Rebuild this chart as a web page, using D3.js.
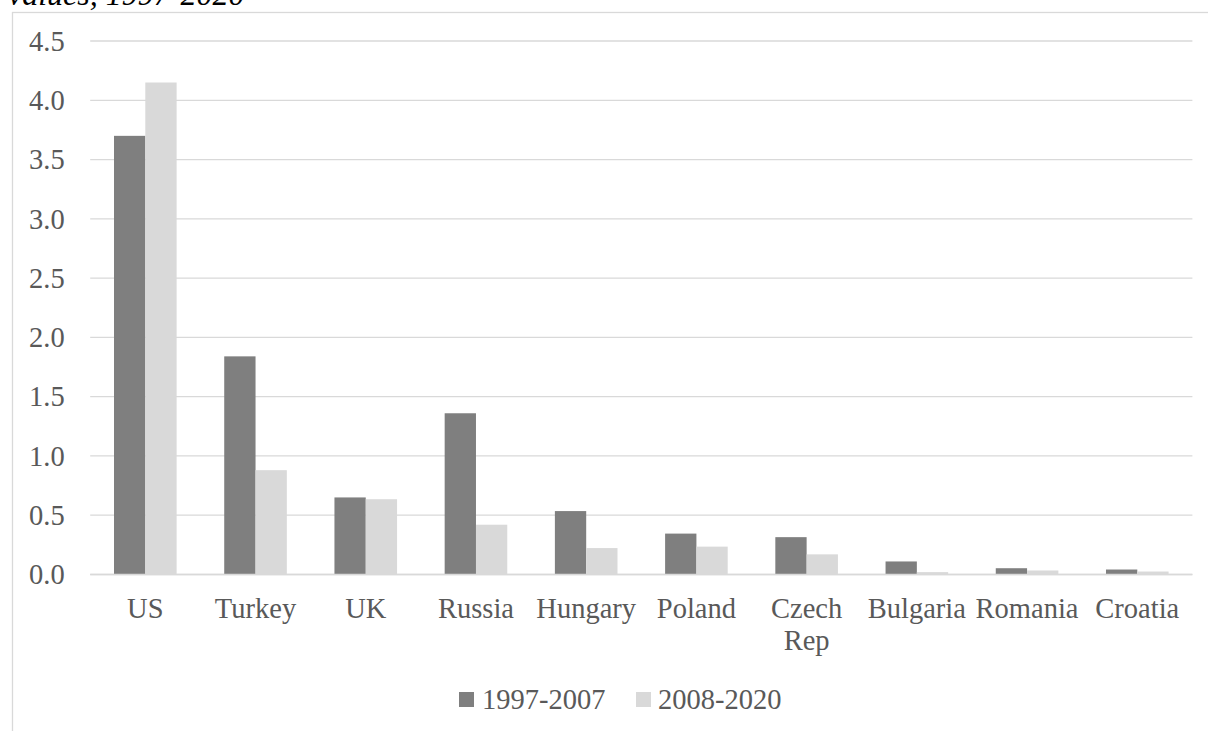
<!DOCTYPE html>
<html>
<head>
<meta charset="utf-8">
<script src="https://cdn.jsdelivr.net/npm/d3@7"></script>
<style>
  html, body { margin: 0; padding: 0; background: #fff; }
  svg { display: block; }
</style>
</head>
<body>
<svg id="chart" width="1208" height="731"></svg>
<script>
const categories = ["US", "Turkey", "UK", "Russia", "Hungary", "Poland", "Czech Rep", "Bulgaria", "Romania", "Croatia"];
const series1997_2007 = [3.70, 1.84, 0.65, 1.36, 0.535, 0.345, 0.315, 0.11, 0.053, 0.042];
const series2008_2020 = [4.15, 0.88, 0.635, 0.42, 0.223, 0.235, 0.17, 0.02, 0.034, 0.025];
const seriesNames = ["1997-2007", "2008-2020"];
const seriesColors = ["#7f7f7f", "#d9d9d9"];
const yTicks = [0, 0.5, 1.0, 1.5, 2.0, 2.5, 3.0, 3.5, 4.0, 4.5];
const titleText = "values, 1997-2020";

(function () {
const svg = d3.select("#chart");
const font = "'Liberation Serif', 'Times New Roman', serif";
const textColor = "#595959";

// caption (cut off at top, as in the source page)
svg.append("text")
  .attr("x", 8).attr("y", 5)
  .attr("font-family", font).attr("font-style", "italic")
  .attr("font-size", 32).attr("fill", "#000")
  .text(titleText);

// chart frame
svg.append("rect")
  .attr("x", 12.5).attr("y", 12.5)
  .attr("width", 1300).attr("height", 800)
  .attr("fill", "#fff").attr("stroke", "#d9d9d9").attr("stroke-width", 1.3);

const pLeft = 90.2, pRight = 1192.4, pTop = 41, pBottom = 574.5;

const x = d3.scaleBand().domain(categories).range([pLeft, pRight]).paddingInner(0.432).paddingOuter(0.216);
const xs = d3.scaleBand().domain(seriesNames).range([0, x.bandwidth()]);
const y = d3.scaleLinear().domain([0, 4.5]).range([pBottom, pTop]);

// gridlines
svg.append("g").selectAll("line").data(yTicks).join("line")
  .attr("x1", pLeft).attr("x2", pRight)
  .attr("y1", d => y(d)).attr("y2", d => y(d))
  .attr("stroke", "#d9d9d9").attr("stroke-width", 1.3);

// y labels
svg.append("g").selectAll("text").data(yTicks).join("text")
  .attr("x", 29).attr("y", d => y(d))
  .attr("dy", "0.34em")
  .attr("font-family", font).attr("font-size", 28.5).attr("fill", textColor)
  .text(d => d3.format(".1f")(d));

// bars
const data = categories.map((c, i) => ({cat: c, vals: [series1997_2007[i], series2008_2020[i]]}));
const groups = svg.append("g").selectAll("g").data(data).join("g")
  .attr("transform", d => `translate(${x(d.cat)},0)`);
groups.selectAll("rect").data(d => d.vals.map((v, j) => ({name: seriesNames[j], v, j})))
  .join("rect")
  .attr("x", d => xs(d.name))
  .attr("width", xs.bandwidth())
  .attr("y", d => y(d.v))
  .attr("height", d => y(0) - y(d.v))
  .attr("fill", d => seriesColors[d.j]);

// baseline axis
svg.append("line")
  .attr("x1", pLeft).attr("x2", pRight)
  .attr("y1", y(0)).attr("y2", y(0))
  .attr("stroke", "#d9d9d9").attr("stroke-width", 1.5);

// category labels
const catG = svg.append("g");
categories.forEach(c => {
  const words = c === "Czech Rep" ? ["Czech", "Rep"] : [c];
  const cx = x(c) + x.bandwidth() / 2;
  const t = catG.append("text")
    .attr("x", cx)
    .attr("y", 618)
    .attr("text-anchor", "middle")
    .attr("font-family", font).attr("font-size", 28.5).attr("fill", textColor);
  words.forEach((w, i) => {
    t.append("tspan").attr("x", cx).attr("dy", i === 0 ? 0 : 32).text(w);
  });
});

// legend
const legendItems = [{name: seriesNames[0], sx: 459, tx: 482}, {name: seriesNames[1], sx: 636, tx: 658}];
legendItems.forEach((d, i) => {
  svg.append("rect").attr("x", d.sx).attr("y", 692).attr("width", 15).attr("height", 15)
    .attr("fill", seriesColors[i]);
  svg.append("text").attr("x", d.tx).attr("y", 709)
    .attr("font-family", font).attr("font-size", 28.5).attr("fill", textColor)
    .text(d.name);
});
})();
</script>
</body>
</html>
